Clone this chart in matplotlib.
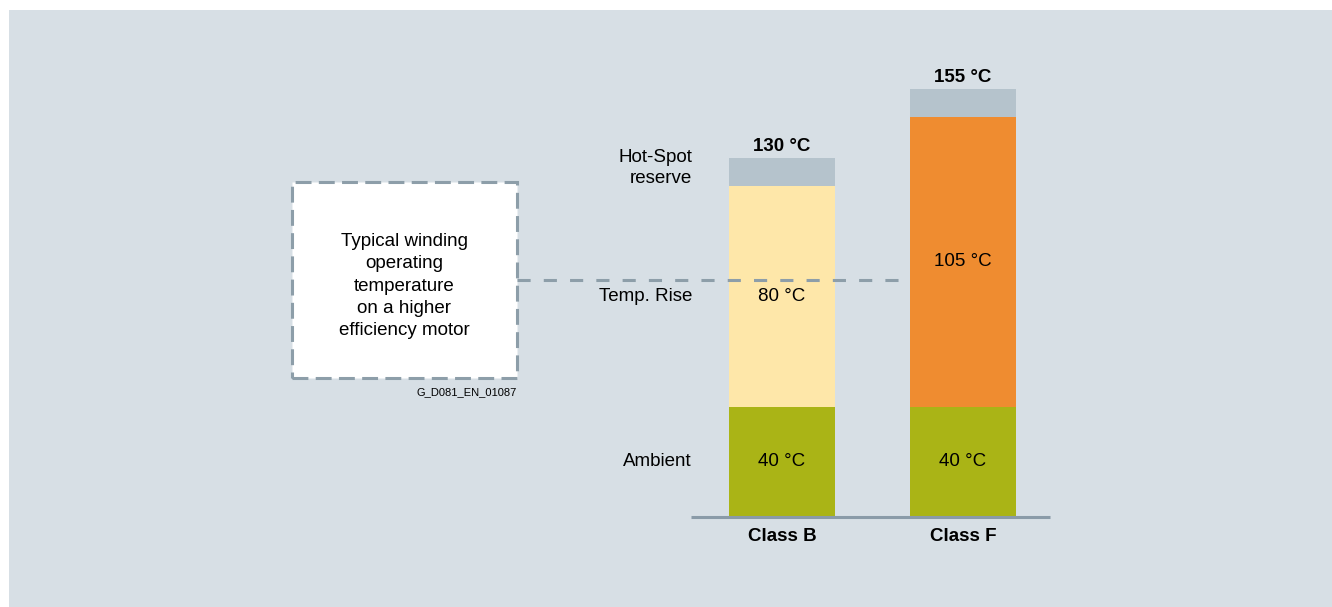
import matplotlib.pyplot as plt
from matplotlib.patches import Rectangle

# data
classes = ["Class B", "Class F"]
ambient = [40, 40]
temp_rise = [80, 105]
hotspot = [10, 10]
totals = ["130 °C", "155 °C"]
typical_level = 86  # dashed "typical winding temperature" level

row_labels = ["Hot-Spot\nreserve", "Temp. Rise", "Ambient"]

c_bg = "#d7dfe5"
c_amb = "#aab416"
c_rise = ["#fee7a9", "#ef8c30"]
c_hot = "#b5c3cc"
c_line = "#8a9ba8"
c_dash = "#8d9ea9"

plt.rcParams["font.family"] = ["Liberation Sans", "DejaVu Sans"]

W, H = 1332, 607
fig = plt.figure(figsize=(W / 100, H / 100), dpi=100)
fig.patch.set_facecolor("white")

# axes covering the whole figure; pixel y = 517 - ppd*T, pixel x = 782 + 181*i
ppd = 2.76
ax = fig.add_axes([0, 0, 1, 1])
ax.set_facecolor("none")
ax.set_ylim(-(H - 517) / ppd, 517 / ppd)
ax.set_xlim(-782 / 181, (W - 782) / 181)
ax.axis("off")

# grey background panel
ax.add_patch(Rectangle((9 / W, 0), 1, 1 - 10 / H, transform=fig.transFigure,
                       facecolor=c_bg, edgecolor="none", zorder=0))

x = [0, 1]
bw = 106 / 181
ax.bar(x, ambient, width=bw, color=c_amb, zorder=2)
ax.bar(x, temp_rise, width=bw, bottom=ambient, color=c_rise, zorder=2)
bot2 = [a + r for a, r in zip(ambient, temp_rise)]
ax.bar(x, hotspot, width=bw, bottom=bot2, color=c_hot, zorder=2)

fs = 13.5
for i in x:
    ax.text(i, ambient[i] / 2, f"{ambient[i]} °C", ha="center", va="center",
            fontsize=fs, zorder=4)
    ax.text(i, ambient[i] + temp_rise[i] / 2, f"{temp_rise[i]} °C",
            ha="center", va="center", fontsize=fs, zorder=4)
    ax.text(i, bot2[i] + hotspot[i] + 4.4, totals[i], ha="center", va="center",
            fontsize=fs, fontweight="bold")
    ax.text(i, -7, classes[i], ha="center", va="center", fontsize=fs, fontweight="bold")

# baseline
ax.plot([(691 - 782) / 181, (1050 - 782) / 181], [0, 0], color=c_line, lw=2.2,
        zorder=3, solid_capstyle="butt")

# row labels, right aligned left of the bars
lx = (692 - 782) / 181
ax.text(lx, ambient[0] + temp_rise[0] + hotspot[0] / 2 + 1.5, row_labels[0],
        ha="right", va="center", fontsize=fs, linespacing=1.35)
ax.text(lx, ambient[0] + temp_rise[0] / 2, row_labels[1], ha="right", va="center", fontsize=fs)
ax.text(lx, ambient[0] / 2, row_labels[2], ha="right", va="center", fontsize=fs)

# dashed box and connector
bx0, bx1 = (292 - 782) / 181, (517 - 782) / 181
by0, by1 = (517 - 378) / ppd, (517 - 182) / ppd
box = Rectangle((bx0, by0), bx1 - bx0, by1 - by0, facecolor="white",
                edgecolor=c_dash, lw=2.2, linestyle=(0, (5.2, 2.4)), zorder=1)
ax.add_patch(box)
ax.plot([bx1, (907 - 782) / 181], [typical_level, typical_level], color=c_dash,
        lw=2.2, linestyle=(0, (4.3, 4.3)), zorder=3)
ax.text((bx0 + bx1) / 2, (by0 + by1) / 2 - 2.2,
        "Typical winding\noperating\ntemperature\non a higher\nefficiency motor",
        ha="center", va="center", fontsize=13.5, linespacing=1.42, zorder=3)
ax.text(bx1, by0 - 5, "G_D081_EN_01087", ha="right", va="center", fontsize=8, zorder=3)

fig.savefig("out.png", dpi=100, facecolor=fig.get_facecolor())
